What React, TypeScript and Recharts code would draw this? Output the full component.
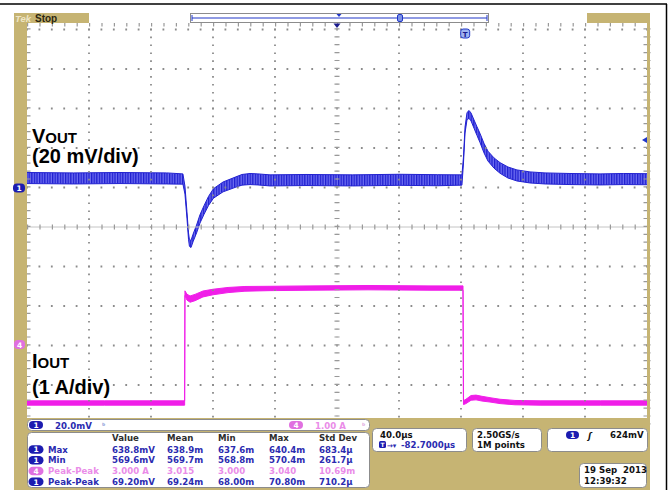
import React from 'react';
import {
  ComposedChart,
  Area,
  XAxis,
  YAxis,
  ReferenceLine,
  ReferenceDot,
} from 'recharts';

// ---------- axes (time in µs, 40 µs/div; Vout in mV, 20 mV/div; Iout in A, 1 A/div)
const timeTicks = [0, 40, 80, 120, 160, 200, 240, 280, 320, 360, 400];
const voltTicks = [500, 520, 540, 560, 580, 600, 620, 640, 660, 680];
const vDomain = [480, 683.3];
const iDomain = [-0.544, 9.62];
const centerTime = 200;
const centerVolt = 580;
const triggerLevel = 624;
const triggerTime = 282.7;

// ---------- VOUT (channel 1) : centre value and ripple half-width
const voutTime = [0, 30, 60, 90, 100.6, 101.9, 103.2, 104.2, 104.8, 105.8, 107.1, 109.4, 111.6, 114.2, 117.1, 120.3, 126.5, 134.8, 138.7, 143.9, 149, 156.8, 180, 210, 240, 265, 280.6, 281.6, 282.6, 283.9, 285.2, 286.5, 288.4, 290.3, 292.3, 294.8, 297.4, 301.3, 305.2, 310.3, 316.1, 324.5, 334.2, 350.3, 369.7, 385, 400];
const voutMv = [604.8, 604.6, 604.8, 604.6, 604.3, 598.7, 586.1, 575.4, 571.9, 571.4, 574.4, 579.0, 584.1, 588.6, 593.2, 597.0, 600.3, 602.8, 603.9, 604.3, 604.1, 603.6, 603.8, 603.6, 603.9, 603.7, 603.8, 613.9, 629.1, 636.2, 637.0, 635.7, 632.1, 628.6, 625.0, 620.0, 615.9, 612.4, 609.9, 607.6, 606.1, 605.1, 604.6, 604.3, 604.1, 604.3, 604.2];
const voutRipple = [2.8, 2.8, 2.8, 2.8, 2.6, 2.0, 1.6, 1.6, 1.7, 1.8, 1.9, 2.0, 2.1, 2.2, 2.3, 2.4, 2.5, 2.6, 2.7, 2.8, 2.8, 2.8, 2.8, 2.8, 2.8, 2.8, 2.6, 1.5, 1.5, 1.8, 2.0, 2.0, 2.1, 2.2, 2.3, 2.4, 2.5, 2.6, 2.7, 2.8, 2.8, 2.8, 2.8, 2.8, 2.8, 2.8, 2.8];

// ---------- IOUT (channel 4)
const iTime = [0, 50, 101.7, 101.9, 103.2, 105.2, 108.4, 113.5, 120, 129.7, 140.6, 156.8, 182.6, 220, 260, 281.3, 281.6, 283.2, 286.5, 289.7, 293.5, 298.7, 305.2, 314.8, 331, 370, 400];
const iAmp = [0, 0, 0, 2.78, 2.68, 2.63, 2.67, 2.76, 2.81, 2.86, 2.89, 2.90, 2.91, 2.92, 2.91, 2.91, 0.01, 0.04, 0.13, 0.14, 0.11, 0.08, 0.04, 0.01, 0, 0, 0];
const iHalf = [0.055, 0.055, 0.055, 0.06, 0.075, 0.08, 0.08, 0.075, 0.07, 0.065, 0.06, 0.055, 0.055, 0.055, 0.055, 0.055, 0.05, 0.055, 0.06, 0.06, 0.06, 0.055, 0.055, 0.055, 0.055, 0.055, 0.055];

// ---------- readouts
const measHeader = ['Value', 'Mean', 'Min', 'Max', 'Std Dev'];
const measRows = [
  { ch: '1', name: 'Max', vals: ['638.8mV', '638.9m', '637.6m', '640.4m', '683.4µ'] },
  { ch: '1', name: 'Min', vals: ['569.6mV', '569.7m', '568.8m', '570.4m', '261.7µ'] },
  { ch: '4', name: 'Peak-Peak', vals: ['3.000 A', '3.015', '3.000', '3.040', '10.69m'] },
  { ch: '1', name: 'Peak-Peak', vals: ['69.20mV', '69.24m', '68.00m', '70.80m', '710.2µ'] },
];
const ch1Scale = '20.0mV';
const ch4Scale = '1.00 A';
const horizScale = '40.0µs';
const horizDelay = '-82.7000µs';
const sampleRate = '2.50GS/s';
const recordLen = '1M points';
const trigText = '624mV';
const dateText = '19 Sep\u00a0 2013';
const timeText = '12:39:32';

const voutData = voutTime.map((t, k) => ({ t, band: [voutMv[k] - voutRipple[k], voutMv[k] + voutRipple[k]] }));
const iData = iTime.map((t, k) => ({ t, band: [iAmp[k] - iHalf[k], iAmp[k] + iHalf[k]] }));

const TAN = '#c6b473';
const PINK_TRACE = '#f01ee8';
const BLUE_TXT = '#2b2bb0';
const BLUE_BADGE = '#1c1cb0';
const PINK_TXT = '#ea8ce8';
const PINK_BADGE = '#e070e0';
const BOX_STROKE = '#8c8c8c';
const GRID = '#8c8c8c';
const RO_FONT = 'DejaVu Sans, Verdana, sans-serif';
const LBL_FONT = 'Liberation Sans, Arial, sans-serif';

const colX = [112, 167, 218, 269, 319];
const rowBase = [452.5, 463.3, 474, 484.8];

function Badge({ x, y, n, color, w = 15, h = 8.5 }: { x: number; y: number; n: string; color: string; w?: number; h?: number }) {
  return (
    <g>
      <rect x={x} y={y - h / 2} width={w} height={h} rx={h / 2} fill={color} />
      <text x={x + w / 2} y={y + 2.8} textAnchor="middle" fontFamily={RO_FONT} fontWeight="bold" fontSize={7.5} fill="#fff">
        {n}
      </text>
    </g>
  );
}

function Overlay() {
  const ro = { fontFamily: RO_FONT, fontWeight: 'bold' as const, fontSize: 8.6 };
  return (
    <svg width={669} height={490} style={{ position: 'absolute', left: 0, top: 0, pointerEvents: 'none' }}>
      <defs>
        <pattern id="rippleFill" patternUnits="userSpaceOnUse" width={2.6} height={12}>
          <rect x={0} y={0} width={2.6} height={12} fill="#6c6cf0" />
          <rect x={0} y={0} width={1.3} height={12} fill="#1f1fd0" />
        </pattern>
      </defs>
      {/* outer frame */}
      <line x1={0} y1={4} x2={667} y2={4} stroke="#000" strokeWidth={1.5} />
      <line x1={666.5} y1={4} x2={666.5} y2={490} stroke="#000" strokeWidth={1.5} />

      {/* instrument bezel */}
      <rect x={14} y={13} width={636} height={10} fill={TAN} />
      <rect x={14} y={13} width={13} height={477} fill={TAN} />
      <rect x={647} y={13} width={3} height={477} fill={TAN} />
      <rect x={14} y={418} width={636} height={72} fill={TAN} />

      {/* top status strip */}
      <text x={15} y={21.5} fontFamily={LBL_FONT} fontWeight="bold" fontStyle="italic" fontSize={9.5} fill="#efe6c6">Tek</text>
      <text x={35} y={21.8} fontFamily={LBL_FONT} fontWeight="bold" fontSize={10} fill="#2b2710">Stop</text>
      <rect x={89} y={13} width={498} height={10} fill="#fff" />
      <rect x={190.5} y={13.5} width={298} height={9} fill="#fff" stroke={BOX_STROKE} strokeWidth={1} />
      <line x1={192} y1={18} x2={487} y2={18} stroke="#2036c8" strokeWidth={1.2} />
      <line x1={192} y1={15} x2={192} y2={21} stroke="#2036c8" strokeWidth={1} />
      <line x1={487} y1={15} x2={487} y2={21} stroke="#2036c8" strokeWidth={1} />
      <path d="M336.5 14 L341.5 14 L339 17 Z" fill="#2036c8" />
      <rect x={397.5} y={14.5} width={5} height={7} rx={1.5} fill="#7d93e6" stroke="#2036c8" strokeWidth={1} />

      {/* channel position markers */}
      <rect x={13} y={183.5} width={12} height={9} rx={4} fill={BLUE_BADGE} />
      <text x={19} y={191} textAnchor="middle" fontFamily={RO_FONT} fontWeight="bold" fontSize={7.5} fill="#fff">1</text>
      <rect x={14} y={340} width={11} height={9} rx={4} fill={PINK_BADGE} />
      <text x={19.5} y={347.5} textAnchor="middle" fontFamily={RO_FONT} fontWeight="bold" fontSize={7.5} fill="#fff">4</text>

      {/* waveform annotations */}
      <text x={32} y={143} fontFamily={LBL_FONT} fontWeight="bold" fontSize={20} fill="#000">
        V<tspan fontSize={15}>OUT</tspan>
      </text>
      <text x={32} y={163} fontFamily={LBL_FONT} fontWeight="bold" fontSize={20} fill="#000">(20 mV/div)</text>
      <text x={32} y={368} fontFamily={LBL_FONT} fontWeight="bold" fontSize={20} fill="#000">
        I<tspan fontSize={15}>OUT</tspan>
      </text>
      <text x={32} y={394} fontFamily={LBL_FONT} fontWeight="bold" fontSize={20} fill="#000">(1 A/div)</text>

      {/* channel scale box */}
      <rect x={27.5} y={419.5} width={342} height={11} rx={4} fill="#fff" stroke={BOX_STROKE} />
      <Badge x={29} y={425} n="1" color={BLUE_BADGE} w={14} h={8} />
      <text x={55} y={428.5} {...ro} fill={BLUE_TXT}>{ch1Scale}</text>
      <text x={102} y={428} {...ro} fontSize={7} fill="#8d9bd8">ᵇ</text>
      <Badge x={289} y={425} n="4" color={PINK_BADGE} w={14} h={8} />
      <text x={315} y={428.5} {...ro} fill={PINK_TXT}>{ch4Scale}</text>
      <text x={362} y={428} {...ro} fontSize={7} fill="#e0a8e0">ᵇ</text>

      {/* measurement table */}
      <rect x={27.5} y={432.5} width={342} height={55} rx={4} fill="#fff" stroke={BOX_STROKE} />
      {measHeader.map((h, k) => (
        <text key={h} x={colX[k]} y={441} {...ro} fill="#2d2d2d">{h}</text>
      ))}
      {measRows.map((r, j) => {
        const col = r.ch === '4' ? PINK_TXT : BLUE_TXT;
        const bcol = r.ch === '4' ? PINK_BADGE : BLUE_BADGE;
        return (
          <g key={j}>
            <Badge x={28.5} y={rowBase[j] - 3} n={r.ch} color={bcol} />
            <text x={48} y={rowBase[j]} {...ro} fill={col}>{r.name}</text>
            {r.vals.map((v, k) => (
              <text key={k} x={colX[k]} y={rowBase[j]} {...ro} fill={col}>{v}</text>
            ))}
          </g>
        );
      })}

      {/* horizontal box */}
      <rect x={372.5} y={428.5} width={94} height={23} rx={4} fill="#fff" stroke={BOX_STROKE} />
      <text x={380} y={438} {...ro} fill="#111">{horizScale}</text>
      <rect x={379} y={441} width={7} height={7} rx={1.5} fill={BLUE_BADGE} />
      <text x={382.5} y={447} textAnchor="middle" fontFamily={RO_FONT} fontWeight="bold" fontSize={6} fill="#fff">T</text>
      <text x={387} y={448} {...ro} fontSize={7} fill={BLUE_TXT}>→▾</text>
      <text x={401} y={448} {...ro} fill={BLUE_TXT}>{horizDelay}</text>

      {/* acquisition box */}
      <rect x={472.5} y={428.5} width={69} height={23} rx={4} fill="#fff" stroke={BOX_STROKE} />
      <text x={477} y={438} {...ro} fill="#111">{sampleRate}</text>
      <text x={477} y={448} {...ro} fill="#111">{recordLen}</text>

      {/* trigger box */}
      <rect x={547.5} y={428.5} width={100} height={23} rx={4} fill="#fff" stroke={BOX_STROKE} />
      <Badge x={566} y={435} n="1" color={BLUE_BADGE} w={13} h={8} />
      <text x={588} y={438.5} {...ro} fontStyle="italic" fill="#111">ʃ</text>
      <text x={610} y={438} {...ro} fill="#111">{trigText}</text>

      {/* date box */}
      <rect x={579.5} y={463.5} width={67} height={24} rx={4} fill="#fff" stroke={BOX_STROKE} />
      <text x={584} y={473} {...ro} fill="#111" style={{ whiteSpace: 'pre' }}>{dateText}</text>
      <text x={584} y={483.5} {...ro} fill="#111">{timeText}</text>
    </svg>
  );
}

export default function App() {
  return (
    <div style={{ position: 'absolute', left: 0, top: 0, width: 669, height: 490, background: '#fff', overflow: 'hidden' }}>
      <ComposedChart width={669} height={490} margin={{ top: 23, right: 22, bottom: 65.5, left: 27 }}>
        <XAxis type="number" dataKey="t" domain={[0, 400]} ticks={timeTicks} hide allowDataOverflow />
        <YAxis yAxisId="v" type="number" domain={vDomain} ticks={voltTicks} hide allowDataOverflow />
        <YAxis yAxisId="i" type="number" domain={iDomain} hide allowDataOverflow />
        {voltTicks
          .filter((v) => v !== centerVolt)
          .map((v) => (
            <ReferenceLine key={`h${v}`} yAxisId="v" y={v} stroke={GRID} strokeWidth={2} strokeDasharray="1.8 10.6" strokeDashoffset={0.9} />
          ))}
        {timeTicks
          .filter((t) => t !== centerTime && t !== 0 && t !== 400)
          .map((t) => (
            <ReferenceLine key={`v${t}`} yAxisId="v" x={t} stroke={GRID} strokeWidth={1.8} strokeDasharray="1.6 6.3" strokeDashoffset={0.8} />
          ))}
        <ReferenceLine yAxisId="v" y={centerVolt} stroke="#c4c4c4" strokeWidth={1} />
        <ReferenceLine yAxisId="v" y={centerVolt} stroke="#999" strokeWidth={5} strokeDasharray="1.2 11.2" />
        <ReferenceLine yAxisId="v" x={centerTime} stroke="#c4c4c4" strokeWidth={1} strokeDasharray="1.2 6.7" />
        <ReferenceLine yAxisId="v" x={centerTime} stroke="#999" strokeWidth={5} strokeDasharray="1.2 6.7" />
        <ReferenceLine yAxisId="v" x={0} stroke="#999" strokeWidth={7} strokeDasharray="1.2 6.7" />
        <ReferenceLine yAxisId="v" x={400} stroke="#999" strokeWidth={7} strokeDasharray="1.2 6.7" />
        <ReferenceLine yAxisId="v" y={vDomain[1]} stroke="#999" strokeWidth={7} strokeDasharray="1.2 11.2" />
        <Area
          yAxisId="i"
          data={iData}
          dataKey="band"
          type="linear"
          fill={PINK_TRACE}
          fillOpacity={1}
          stroke={PINK_TRACE}
          strokeWidth={1}
          dot={false}
          activeDot={false}
          isAnimationActive={false}
        />
        <Area
          yAxisId="v"
          data={voutData}
          dataKey="band"
          type="linear"
          fill="url(#rippleFill)"
          fillOpacity={1}
          stroke="#2222d0"
          strokeWidth={1}
          dot={false}
          activeDot={false}
          isAnimationActive={false}
        />
        <ReferenceDot
          yAxisId="v"
          x={centerTime}
          y={vDomain[1]}
          shape={(p: any) => <path d={`M${p.cx - 3.5} ${p.cy + 0.5} L${p.cx + 3.5} ${p.cy + 0.5} L${p.cx} ${p.cy + 5} Z`} fill="#1a1a8c" />}
        />
        <ReferenceDot
          yAxisId="v"
          x={triggerTime}
          y={vDomain[1]}
          shape={(p: any) => (
            <g>
              <rect x={p.cx - 4.5} y={p.cy + 6} width={9} height={9} rx={2.5} fill="#9fb4f0" stroke="#2036c8" strokeWidth={1} />
              <text x={p.cx} y={p.cy + 13.5} textAnchor="middle" fontFamily={RO_FONT} fontWeight="bold" fontSize={7} fill="#1a1a8c">T</text>
            </g>
          )}
        />
        <ReferenceDot
          yAxisId="v"
          x={400}
          y={triggerLevel}
          shape={(p: any) => <path d={`M${p.cx - 5} ${p.cy} L${p.cx} ${p.cy - 3} L${p.cx} ${p.cy + 3} Z`} fill="#2036c8" />}
        />
      </ComposedChart>
      <Overlay />
    </div>
  );
}
